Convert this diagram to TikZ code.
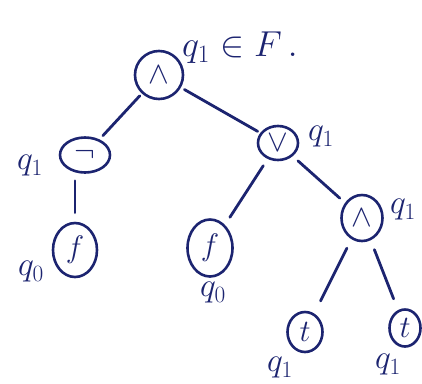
\documentclass[tikz,border=0pt]{standalone}
\usepackage{graphicx}
\usepackage{amsmath}
\usetikzlibrary{shapes.geometric}
\definecolor{ink}{RGB}{28,36,112}
\newcommand{\symtxt}[1]{\scalebox{1.25}{$#1$}}
\newcommand{\labtxt}[1]{\scalebox{1.35}{$#1$}}
\begin{document}
\begin{tikzpicture}[x=1pt,y=-1pt,
  op/.style={draw=ink, line width=2.6pt, ellipse, inner sep=0pt, text=ink, font=\fontsize{24}{26}\selectfont},
  lab/.style={text=ink, font=\fontsize{24}{26}\selectfont, inner sep=0pt},
  edge/.style={draw=ink, line width=2.8pt, line cap=round, shorten <=7pt, shorten >=7pt}]
\useasboundingbox (0,0) rectangle (422,383);
\node[op, minimum width=48pt, minimum height=48pt] (r) at (159,75) {\symtxt{\wedge}};
\node[op, minimum width=50pt, minimum height=35pt] (n) at (85,155) {\symtxt{\neg}};
\node[op, minimum width=40pt, minimum height=34pt] (o) at (278,143) {\symtxt{\vee}};
\node[op, minimum width=44pt, minimum height=54pt] (f1) at (75,250) {\symtxt{f}};
\node[op, minimum width=45pt, minimum height=57pt] (f2) at (210,248) {\symtxt{f}};
\node[op, minimum width=41pt, minimum height=46pt] (a) at (362,218) {\symtxt{\wedge}};
\node[op, minimum width=35pt, minimum height=40pt] (t1) at (305,332) {\symtxt{t}};
\node[op, minimum width=31pt, minimum height=37pt] (t2) at (405,328) {\symtxt{t}};
\node[lab, anchor=west] (lr) at (182,48) {\scalebox{1.45}{$q_1 \in F\,.$}};
\node[lab] (ln) at (30,166) {\labtxt{q_1}};
\node[lab] (lo) at (321,137) {\labtxt{q_1}};
\node[lab] (lf1) at (31,272) {\labtxt{q_0}};
\node[lab] (lf2) at (213,293) {\labtxt{q_0}};
\node[lab] (la) at (403,210) {\labtxt{q_1}};
\node[lab] (lt1) at (280,368) {\labtxt{q_1}};
\node[lab] (lt2) at (388,365) {\labtxt{q_1}};
\draw[edge, shorten <=3pt, shorten >=5pt] (r) -- (n);
\draw[edge, shorten <=4pt, shorten >=3pt] (r) -- (o);
\draw[edge, shorten <=7pt, shorten >=9pt] (n.south -| f1.north) -- (f1.north);
\draw[edge, shorten <=8pt, shorten >=9pt] (o) -- (f2);
\draw[edge] (o) -- (a);
\draw[edge, shorten <=10pt, shorten >=14pt] (a) -- (t1);
\draw[edge, shorten <=10pt, shorten >=12pt] (a) -- (t2);
\end{tikzpicture}
\end{document}
